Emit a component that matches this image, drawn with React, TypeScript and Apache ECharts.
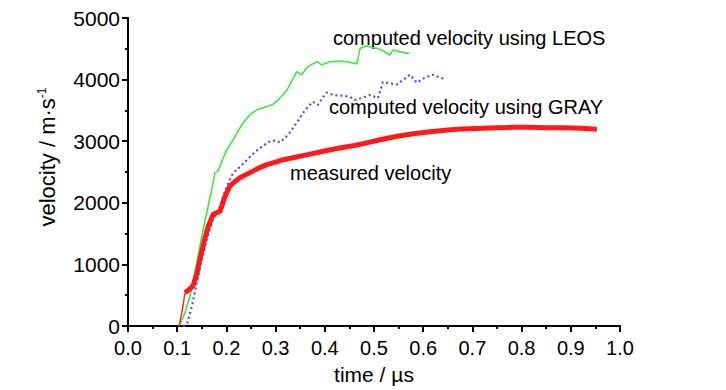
import React, { useEffect, useRef } from "react";
import * as echarts from "echarts";

const xTicks = [0, 0.1, 0.2, 0.3, 0.4, 0.5, 0.6, 0.7, 0.8, 0.9, 1.0];
const yTicks = [0, 1000, 2000, 3000, 4000, 5000];

const tMeasuredLead = [0.104, 0.11, 0.116];
const vMeasuredLead = [0, 250, 540];

const tMeasured = [0.116, 0.124, 0.132, 0.14, 0.146, 0.155, 0.163, 0.173, 0.18, 0.187, 0.197, 0.207, 0.218, 0.228, 0.248, 0.265, 0.282, 0.3, 0.315, 0.34, 0.37, 0.4, 0.43, 0.46, 0.478, 0.51, 0.547, 0.58, 0.614, 0.65, 0.681, 0.72, 0.75, 0.78, 0.817, 0.85, 0.884, 0.92, 0.953];
const vMeasured = [540, 590, 650, 850, 1080, 1380, 1620, 1810, 1840, 1860, 2100, 2270, 2350, 2410, 2490, 2560, 2620, 2660, 2700, 2740, 2790, 2840, 2890, 2930, 2960, 3020, 3080, 3120, 3155, 3180, 3200, 3210, 3220, 3225, 3225, 3220, 3220, 3210, 3195];

const tLeos = [0.104, 0.115, 0.126, 0.14, 0.153, 0.167, 0.177, 0.183, 0.192, 0.201, 0.214, 0.224, 0.234, 0.248, 0.262, 0.282, 0.295, 0.309, 0.323, 0.333, 0.343, 0.353, 0.363, 0.374, 0.384, 0.394, 0.41, 0.43, 0.445, 0.465, 0.472, 0.485, 0.496, 0.506, 0.52, 0.532, 0.539, 0.553, 0.567, 0.572];
const vLeos = [0, 200, 490, 1035, 1570, 2100, 2490, 2510, 2700, 2860, 3025, 3170, 3300, 3430, 3510, 3560, 3600, 3700, 3830, 3980, 4130, 4080, 4190, 4250, 4290, 4240, 4290, 4300, 4290, 4255, 4510, 4550, 4520, 4510, 4460, 4400, 4480, 4450, 4430, 4430];

const tGray = [0.112, 0.12, 0.13, 0.14, 0.15, 0.16, 0.173, 0.187, 0.193, 0.201, 0.214, 0.222, 0.242, 0.255, 0.268, 0.289, 0.3, 0.309, 0.32, 0.329, 0.343, 0.356, 0.366, 0.376, 0.386, 0.395, 0.404, 0.417, 0.435, 0.451, 0.461, 0.475, 0.492, 0.508, 0.518, 0.532, 0.547, 0.56, 0.573, 0.587, 0.603, 0.62, 0.632, 0.644];
const vGray = [0, 30, 320, 710, 1080, 1400, 1730, 1940, 2100, 2270, 2490, 2540, 2700, 2800, 2890, 3000, 3010, 2980, 3060, 3140, 3300, 3460, 3560, 3640, 3590, 3700, 3790, 3750, 3740, 3720, 3670, 3700, 3750, 3700, 3960, 3940, 3920, 4000, 4080, 3950, 4030, 4080, 4040, 4010];

const labelLeos = "computed velocity using LEOS";
const labelGray = "computed velocity using GRAY";
const labelMeasured = "measured velocity";

const FONT = "'Liberation Sans', Arial, sans-serif";

const zip = (t: number[], v: number[]) => t.map((x, i) => [x, v[i]]);

export default function App() {
  const ref = useRef<HTMLDivElement>(null);
  useEffect(() => {
    if (!ref.current) return;
    const chart = echarts.init(ref.current, null, { renderer: "svg" });
    const axisLine = { show: true, lineStyle: { color: "#000", width: 2 } };
    const labelStyle = { color: "#000", fontFamily: FONT, fontSize: 20 };
    const tickStyle = { color: "#000", width: 2 };
    chart.setOption({
      animation: false,
      backgroundColor: "#fff",
      grid: { left: 128, top: 18, right: 106, bottom: 63, containLabel: false },
      xAxis: [
        {
          type: "value",
          position: "bottom",
          min: xTicks[0],
          max: xTicks[xTicks.length - 1],
          interval: 0.1,
          axisLine,
          axisTick: { show: true, inside: false, length: 6, lineStyle: tickStyle },
          minorTick: { show: true, splitNumber: 2, length: 3, lineStyle: tickStyle },
          splitLine: { show: false },
          axisLabel: { ...labelStyle, margin: 12, formatter: (v: number) => v.toFixed(1) },
          name: "time / µs",
          nameLocation: "middle",
          nameGap: 38,
          nameTextStyle: { color: "#000", fontFamily: FONT, fontSize: 21 },
        },
        {
          type: "value",
          position: "top",
          min: xTicks[0],
          max: xTicks[xTicks.length - 1],
          interval: 0.1,
          axisLine,
          axisTick: { show: true, inside: true, length: 6, lineStyle: tickStyle },
          minorTick: { show: true, splitNumber: 2, length: 3, lineStyle: tickStyle },
          splitLine: { show: false },
          axisLabel: { show: false },
        },
      ],
      yAxis: [
        {
          type: "value",
          position: "left",
          min: yTicks[0],
          max: yTicks[yTicks.length - 1],
          interval: 1000,
          axisLine,
          axisTick: { show: true, inside: false, length: 6, lineStyle: tickStyle },
          minorTick: { show: true, splitNumber: 2, length: 3, lineStyle: tickStyle },
          splitLine: { show: false },
          axisLabel: { ...labelStyle, fontSize: 21, margin: 8, formatter: (v: number) => String(v) },
          name: "velocity / m·s{sup|-1}",
          nameLocation: "middle",
          nameGap: 69,
          nameTextStyle: {
            color: "#000",
            fontFamily: FONT,
            fontSize: 22,
            padding: [0, 0, 0, 30],
            rich: {
              sup: { fontFamily: FONT, fontSize: 12, verticalAlign: "top", padding: [0, 0, 11, 0], color: "#000" },
            },
          },
        },
        {
          type: "value",
          position: "right",
          min: yTicks[0],
          max: yTicks[yTicks.length - 1],
          interval: 1000,
          axisLine,
          axisTick: { show: true, inside: true, length: 6, lineStyle: tickStyle },
          minorTick: { show: true, splitNumber: 2, length: 3, lineStyle: tickStyle },
          splitLine: { show: false },
          axisLabel: { show: false },
        },
      ],
      series: [
        {
          type: "line",
          data: zip(tLeos, vLeos),
          showSymbol: false,
          lineStyle: { color: "#3ee63e", width: 1.6 },
          z: 3,
        },
        {
          type: "line",
          data: zip(tGray, vGray),
          showSymbol: false,
          lineStyle: { color: "#4a4aff", width: 2.2, type: [2, 3] },
          z: 4,
        },
        {
          type: "line",
          data: zip(tMeasuredLead, vMeasuredLead),
          showSymbol: false,
          lineStyle: { color: "#ff2a2a", width: 1.5 },
          z: 5,
        },
        {
          type: "line",
          data: zip(tMeasured, vMeasured),
          showSymbol: false,
          lineStyle: { color: "#ff1a1a", width: 5 },
          z: 5,
        },
      ],
      graphic: [
        { type: "text", x: 333, y: 38, style: { text: labelLeos, fill: "#000", font: `20px ${FONT}`, verticalAlign: "middle" } },
        { type: "text", x: 329, y: 107, style: { text: labelGray, fill: "#000", font: `20px ${FONT}`, verticalAlign: "middle" } },
        { type: "text", x: 290, y: 173, style: { text: labelMeasured, fill: "#000", font: `20px ${FONT}`, verticalAlign: "middle" } },
      ],
    });
    return () => chart.dispose();
  }, []);
  return (
    <div
      ref={ref}
      style={{ position: "fixed", left: 0, top: 0, width: 726, height: 390, background: "#fff" }}
    />
  );
}
